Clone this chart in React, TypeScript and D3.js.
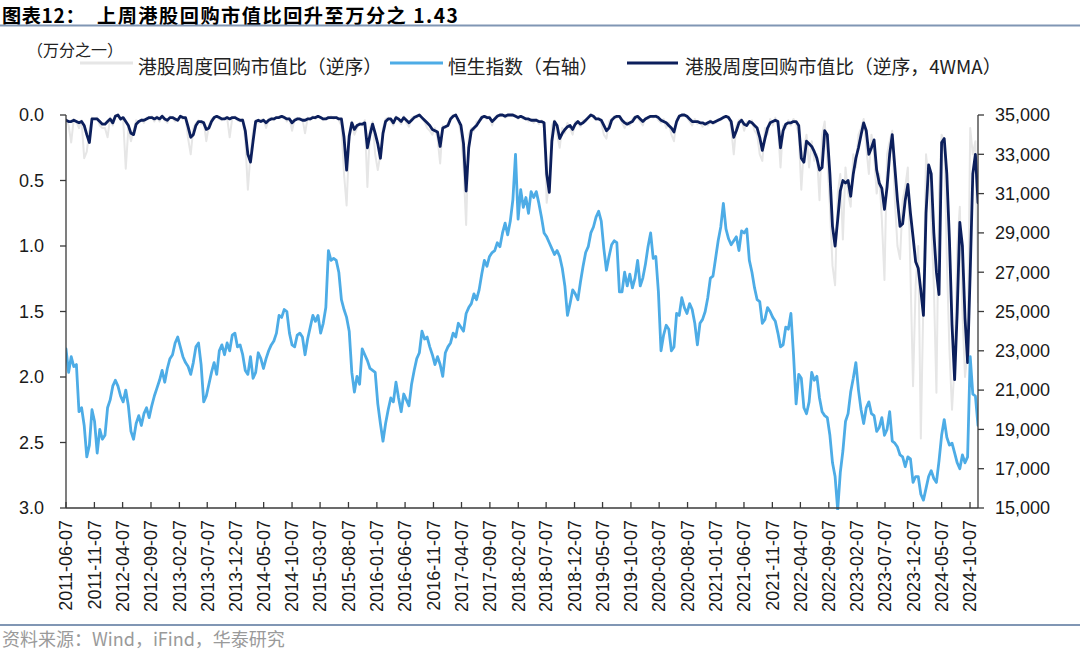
import React from 'react';
import * as d3 from 'd3';

// Series sampled every 14 days starting at seriesStart
const seriesStart = '2011-06-07';
const stepDays = 14;

// 恒生指数 (right axis)
const hsiIndex: number[] = [
  // 2011
  23100, 21900, 22700, 22200, 22300, 19900, 20100, 19200, 17600, 18200, 20000, 19400, 17800, 19000, 18500,
  // 2012
  18700, 20100, 20500, 21200, 21500, 21200, 20700, 20400, 21000, 20200, 18900, 18500, 19300, 19700, 19200, 19800, 20100, 19600, 20200, 20700, 21100, 21500, 22000, 21400, 22100, 22600,
  // 2013
  22800, 23400, 23700, 23200, 22700, 22400, 22200, 21800, 22400, 23200, 23400, 22300, 20400, 20700, 21300, 21900, 22400, 21800, 23000, 23300, 22800, 23400, 23000, 23800, 23900, 23200, 23300,
  // 2014
  22800, 22000, 21800, 22700, 21600, 21900, 22900, 22600, 22100, 22600, 23000, 23300, 23500, 23900, 24800, 24700, 25100, 25000, 23900, 23300, 23200, 23800, 23900, 23700, 22800, 23600,
  // 2015
  24200, 24800, 24500, 24800, 23900, 24400, 25200, 28100, 27600, 27700, 27600, 27000, 25600, 25100, 24700, 24000, 21900, 20900, 21700, 21300, 23100, 22800, 22500, 22100, 22000, 21900,
  // 2016
  20300, 19300, 18400, 19300, 20000, 20600, 20400, 21400, 20600, 19900, 20800, 20500, 20200, 21300, 22000, 22600, 22900, 24000, 23600, 23700, 23200, 22800, 22300, 22700, 22300, 21700,
  // 2017
  22900, 23200, 23400, 23900, 23700, 24400, 24200, 24000, 24900, 25200, 25400, 25900, 25600, 26100, 26900, 27600, 27300, 27800, 28000, 28100, 28500, 28300, 29000, 29500, 28900, 29600,
  // 2018
  30700, 33000, 29700, 31200, 30300, 30800, 30000, 31100, 30800, 31100, 30500, 29800, 29000, 28800, 28500, 28200, 27900, 28100, 27800, 27200, 26300, 24800, 25400, 26100, 25900, 25600,
  // 2019
  26500, 27300, 28000, 28300, 29000, 29300, 29800, 30100, 29600, 28200, 27100, 27800, 28400, 28600, 28500, 26000, 26000, 27000, 26300, 26900, 26200, 26700, 27600, 26300, 26700, 27400,
  // 2020
  28300, 29000, 27700, 27800, 26000, 23000, 23800, 24300, 24100, 23000, 23200, 24900, 24800, 25700, 25200, 24900, 25400, 25100, 24400, 23300, 24400, 24600, 25000, 25700, 26700, 26800,
  // 2021
  27700, 28600, 29300, 30500, 29200, 28700, 28400, 28600, 28800, 28100, 29100, 29000, 29200, 27600, 27000, 26200, 25600, 25500, 24400, 24600, 25200, 25000, 24700, 24500, 23900, 23200,
  // 2022
  23300, 24200, 24100, 24900, 22800, 20300, 21800, 21600, 20100, 19800, 20400, 21900, 21500, 21700, 20600, 19900, 19700, 19600, 18700, 17300, 16600, 14900, 16800, 17900, 19400, 19800,
  // 2023
  20900, 21600, 22400, 21000, 20000, 19300, 20100, 20400, 19800, 19700, 18900, 19100, 19600, 18700, 19000, 19900, 18400, 18300, 18100, 17700, 17600, 17100, 17600, 17500, 16300, 16600,
  // 2024
  16600, 15700, 15400, 16000, 16600, 16900, 16500, 16300, 17400, 18700, 19500, 18600, 18200, 18300, 17800, 17300, 17000, 17700, 17300, 17600, 22700, 20800, 20700, 19200,
];

// 港股周度回购市值比（逆序） — weekly, 万分之一
const buybackWeekly: number[] = [
  0.03, 0.08, 0.21, 0.03, 0.05, 0.10, 0.04, 0.33, 0.28, 0.12, 0.02, 0.03, 0.02, 0.08, 0.10,
  0.10, 0.17, 0.02, 0.08, 0.00, 0.01, 0.04, 0.03, 0.41, 0.10, 0.20, 0.12, 0.04, 0.06, 0.03, 0.06, 0.02, 0.03, 0.01, 0.05, 0.01, 0.05, 0.00, 0.04, 0.06, 0.01,
  0.02, 0.05, 0.03, 0.01, 0.03, 0.02, 0.18, 0.30, 0.10, 0.06, 0.04, 0.07, 0.05, 0.20, 0.08, 0.03, 0.02, 0.01, 0.03, 0.04, 0.02, 0.02, 0.17, 0.02, 0.01, 0.04, 0.05,
  0.03, 0.20, 0.57, 0.30, 0.12, 0.04, 0.06, 0.04, 0.03, 0.10, 0.03, 0.02, 0.04, 0.02, 0.01, 0.02, 0.01, 0.05, 0.02, 0.12, 0.03, 0.02, 0.04, 0.03, 0.14, 0.02,
  0.04, 0.01, 0.03, 0.01, 0.02, 0.04, 0.02, 0.03, 0.01, 0.03, 0.02, 0.04, 0.08, 0.45, 0.69, 0.20, 0.05, 0.15, 0.10, 0.06, 0.08, 0.04, 0.55, 0.10, 0.05, 0.30,
  0.42, 0.30, 0.10, 0.03, 0.02, 0.05, 0.08, 0.01, 0.04, 0.07, 0.01, 0.06, 0.09, 0.02, 0.01, 0.02, 0.00, 0.03, 0.05, 0.10, 0.12, 0.15, 0.10, 0.18, 0.37, 0.08,
  0.10, 0.06, 0.02, 0.00, 0.01, 0.05, 0.14, 0.40, 0.84, 0.15, 0.10, 0.12, 0.05, 0.04, 0.01, 0.02, 0.03, 0.01, 0.08, 0.02, 0.00, 0.01, 0.00, 0.02, 0.01, 0.00,
  0.01, 0.00, 0.03, 0.01, 0.03, 0.02, 0.05, 0.03, 0.06, 0.03, 0.07, 0.04, 0.10, 0.67, 0.50, 0.08, 0.04, 0.15, 0.25, 0.10, 0.14, 0.06, 0.10, 0.15, 0.05, 0.06,
  0.09, 0.04, 0.05, 0.01, 0.00, 0.02, 0.04, 0.02, 0.06, 0.15, 0.18, 0.05, 0.03, 0.01, 0.02, 0.01, 0.06, 0.10, 0.05, 0.08, 0.03, 0.01, 0.02, 0.05, 0.08, 0.02,
  0.03, 0.01, 0.02, 0.00, 0.04, 0.06, 0.03, 0.10, 0.06, 0.15, 0.20, 0.03, 0.00, 0.01, 0.00, 0.02, 0.05, 0.08, 0.03, 0.07, 0.05, 0.09, 0.06, 0.08, 0.04, 0.07,
  0.06, 0.03, 0.04, 0.01, 0.02, 0.01, 0.10, 0.30, 0.08, 0.04, 0.03, 0.12, 0.05, 0.06, 0.04, 0.12, 0.15, 0.30, 0.35, 0.10, 0.15, 0.03, 0.08, 0.02, 0.10, 0.40,
  0.08, 0.10, 0.04, 0.08, 0.03, 0.07, 0.15, 0.57, 0.25, 0.15, 0.40, 0.20, 0.35, 0.30, 0.65, 0.15, 0.05, 0.35, 0.70, 1.15, 1.30, 0.60, 0.45, 0.95, 0.40, 0.60,
  0.70, 0.30, 0.40, 0.15, 0.10, 0.03, 0.25, 0.45, 0.15, 0.30, 0.60, 0.45, 0.80, 1.26, 0.30, 0.20, 0.12, 0.65, 1.00, 1.10, 0.65, 0.55, 0.40, 1.20, 2.07, 1.30,
  1.00, 2.47, 1.40, 0.30, 0.50, 0.80, 1.30, 2.12, 0.60, 0.15, 0.20, 1.10, 1.79, 2.25, 1.90, 1.00, 0.70, 1.50, 2.00, 1.80, 0.10, 0.30, 0.20, 1.43,
];

// 港股周度回购市值比（逆序，4WMA）
const buyback4wma: number[] = [
  0.04, 0.05, 0.05, 0.04, 0.05, 0.06, 0.05, 0.08, 0.15, 0.21, 0.03, 0.03, 0.03, 0.05, 0.07,
  0.07, 0.05, 0.03, 0.06, 0.01, 0.00, 0.03, 0.02, 0.05, 0.08, 0.14, 0.15, 0.07, 0.05, 0.04, 0.04, 0.03, 0.02, 0.02, 0.03, 0.02, 0.03, 0.01, 0.03, 0.04, 0.02,
  0.02, 0.03, 0.04, 0.01, 0.02, 0.02, 0.09, 0.17, 0.15, 0.08, 0.05, 0.05, 0.06, 0.11, 0.10, 0.05, 0.02, 0.01, 0.02, 0.03, 0.03, 0.02, 0.03, 0.02, 0.02, 0.03, 0.04,
  0.04, 0.12, 0.30, 0.36, 0.20, 0.05, 0.04, 0.05, 0.04, 0.06, 0.04, 0.03, 0.03, 0.02, 0.02, 0.01, 0.02, 0.03, 0.03, 0.06, 0.04, 0.03, 0.03, 0.04, 0.04, 0.03,
  0.03, 0.02, 0.02, 0.01, 0.02, 0.03, 0.03, 0.02, 0.02, 0.02, 0.02, 0.03, 0.03, 0.17, 0.42, 0.16, 0.06, 0.11, 0.08, 0.07, 0.07, 0.06, 0.25, 0.15, 0.07, 0.14,
  0.22, 0.33, 0.14, 0.05, 0.03, 0.03, 0.06, 0.02, 0.03, 0.05, 0.02, 0.04, 0.06, 0.04, 0.02, 0.01, 0.00, 0.02, 0.04, 0.06, 0.08, 0.11, 0.12, 0.13, 0.24, 0.10,
  0.09, 0.08, 0.03, 0.01, 0.00, 0.04, 0.08, 0.22, 0.58, 0.25, 0.12, 0.10, 0.08, 0.05, 0.02, 0.01, 0.02, 0.02, 0.05, 0.03, 0.01, 0.00, 0.00, 0.01, 0.00, 0.00,
  0.00, 0.01, 0.02, 0.01, 0.02, 0.03, 0.03, 0.04, 0.04, 0.04, 0.05, 0.05, 0.06, 0.45, 0.59, 0.20, 0.05, 0.08, 0.18, 0.14, 0.11, 0.09, 0.08, 0.11, 0.07, 0.05,
  0.07, 0.06, 0.04, 0.02, 0.00, 0.01, 0.03, 0.03, 0.04, 0.08, 0.12, 0.10, 0.04, 0.02, 0.01, 0.01, 0.04, 0.06, 0.07, 0.06, 0.05, 0.02, 0.01, 0.03, 0.05, 0.03,
  0.02, 0.01, 0.01, 0.01, 0.02, 0.04, 0.05, 0.06, 0.08, 0.10, 0.13, 0.05, 0.01, 0.00, 0.00, 0.01, 0.03, 0.05, 0.05, 0.05, 0.06, 0.06, 0.07, 0.06, 0.05, 0.06,
  0.05, 0.04, 0.03, 0.02, 0.01, 0.02, 0.05, 0.17, 0.12, 0.06, 0.04, 0.07, 0.08, 0.05, 0.06, 0.08, 0.10, 0.17, 0.27, 0.18, 0.10, 0.06, 0.05, 0.04, 0.05, 0.25,
  0.12, 0.07, 0.06, 0.06, 0.05, 0.05, 0.08, 0.33, 0.36, 0.20, 0.22, 0.24, 0.28, 0.33, 0.42, 0.40, 0.12, 0.15, 0.45, 0.85, 1.00, 0.80, 0.58, 0.50, 0.52, 0.50,
  0.62, 0.45, 0.33, 0.25, 0.15, 0.06, 0.12, 0.30, 0.25, 0.19, 0.42, 0.52, 0.56, 0.72, 0.55, 0.30, 0.15, 0.40, 0.65, 0.85, 0.83, 0.65, 0.53, 0.75, 0.93, 1.12,
  1.17, 1.34, 1.53, 0.75, 0.38, 0.45, 0.90, 1.20, 1.37, 0.21, 0.18, 0.45, 0.95, 1.60, 2.02, 1.50, 0.82, 1.00, 1.55, 1.89, 1.20, 0.45, 0.30, 0.67,
];

const leftTicks = [0, 0.5, 1, 1.5, 2, 2.5, 3];
const rightTicks = [15000, 17000, 19000, 21000, 23000, 25000, 27000, 29000, 31000, 33000, 35000];
const xTickLabels = [
  '2011-06-07', '2011-11-07', '2012-04-07', '2012-09-07', '2013-02-07', '2013-07-07', '2013-12-07',
  '2014-05-07', '2014-10-07', '2015-03-07', '2015-08-07', '2016-01-07', '2016-06-07', '2016-11-07',
  '2017-04-07', '2017-09-07', '2018-02-07', '2018-07-07', '2018-12-07', '2019-05-07', '2019-10-07',
  '2020-03-07', '2020-08-07', '2021-01-07', '2021-06-07', '2021-11-07', '2022-04-07', '2022-09-07',
  '2023-02-07', '2023-07-07', '2023-12-07', '2024-05-07', '2024-10-07',
];

const legendLabels = ['港股周度回购市值比（逆序）', '恒生指数（右轴）', '港股周度回购市值比（逆序，4WMA）'];

const COLORS = { gray: '#e6e6e6', hsi: '#4dace6', dark: '#0c1f5c', axis: '#3a3a3a', rule: '#8096b4' };
const CJK = '"Noto Sans CJK SC", "Noto Sans", sans-serif';
const LATIN = '"Liberation Sans", Arial, sans-serif';

export default function App() {
  const W = 1080;
  const H = 652;
  const left = 66;
  const right = 978;
  const top = 115;
  const bottom = 508;

  const parse = d3.utcParse('%Y-%m-%d');
  const start = parse(seriesStart) as Date;
  const dates = hsiIndex.map((_, i) => d3.utcDay.offset(start, i * stepDays));

  const x = d3.scaleUtc().domain([dates[0], dates[dates.length - 1]]).range([left, right]);
  const yL = d3.scaleLinear().domain([0, 3]).range([top, bottom]);
  const yR = d3.scaleLinear().domain([15000, 35000]).range([bottom, top]);

  const lineL = d3
    .line<number>()
    .x((_, i) => x(dates[i]))
    .y((d) => yL(d));
  const lineR = d3
    .line<number>()
    .x((_, i) => x(dates[i]))
    .y((d) => yR(d));

  const legendY = 63;
  const legendFont = 18.8;

  return (
    <svg
      width={W}
      height={H}
      viewBox={`0 0 ${W} ${H}`}
      style={{ position: 'absolute', left: 0, top: 0, background: '#fff' }}
    >
      <rect x={0} y={0} width={W} height={H} fill="#fff" />
      <defs>
        <clipPath id="plot">
          <rect x={left} y={top - 6} width={right - left} height={bottom - top + 8} />
        </clipPath>
      </defs>

      {/* Title */}
      <text x={2} y={22.5} fontFamily={CJK} fontSize={19.2} fontWeight={700} fill="#000" letterSpacing={0.6}>
        图表12：
      </text>
      <text x={97} y={22.5} fontFamily={CJK} fontSize={19.2} fontWeight={700} fill="#000" letterSpacing={1.5}>
        上周港股回购市值比回升至万分之 1.43
      </text>
      <line x1={0} x2={W} y1={25.5} y2={25.5} stroke={COLORS.rule} strokeWidth={2} />

      {/* unit */}
      <text x={27} y={56} fontFamily={CJK} fontSize={16} fill="#222">
        （万分之一）
      </text>

      {/* Legend */}
      <line x1={80} x2={133} y1={legendY} y2={legendY} stroke={COLORS.gray} strokeWidth={3} />
      <text x={138} y={73.5} fontFamily={CJK} fontSize={legendFont} fill="#222">
        {legendLabels[0]}
      </text>
      <line x1={390} x2={443} y1={legendY} y2={legendY} stroke={COLORS.hsi} strokeWidth={3} />
      <text x={448} y={73.5} fontFamily={CJK} fontSize={legendFont} fill="#222">
        {legendLabels[1]}
      </text>
      <line x1={627} x2={678} y1={legendY} y2={legendY} stroke={COLORS.dark} strokeWidth={3} />
      <text x={685} y={73.5} fontFamily={CJK} fontSize={legendFont} fill="#222">
        {legendLabels[2]}
      </text>

      {/* Series */}
      <g clipPath="url(#plot)" fill="none" strokeLinejoin="round" strokeLinecap="round">
        <path d={lineL(buybackWeekly) || ''} stroke={COLORS.gray} strokeWidth={2} />
        <path d={lineL(buyback4wma) || ''} stroke={COLORS.dark} strokeWidth={2.8} />
        <path d={lineR(hsiIndex) || ''} stroke={COLORS.hsi} strokeWidth={2.8} />
      </g>

      {/* Left axis */}
      <line x1={left} x2={left} y1={top} y2={bottom} stroke={COLORS.axis} strokeWidth={1.3} />
      {leftTicks.map((t) => (
        <g key={`l${t}`}>
          <line x1={left - 6} x2={left} y1={yL(t)} y2={yL(t)} stroke={COLORS.axis} strokeWidth={1.3} />
          <text x={44} y={yL(t)} dy="0.35em" textAnchor="end" fontFamily={LATIN} fontSize={18} fill="#1a1a1a">
            {d3.format('.1f')(t)}
          </text>
        </g>
      ))}

      {/* Right axis */}
      <line x1={right} x2={right} y1={top} y2={bottom} stroke={COLORS.axis} strokeWidth={1.3} />
      {rightTicks.map((t) => (
        <g key={`r${t}`}>
          <line x1={right} x2={right + 6} y1={yR(t)} y2={yR(t)} stroke={COLORS.axis} strokeWidth={1.3} />
          <text x={995} y={yR(t)} dy="0.35em" textAnchor="start" fontFamily={LATIN} fontSize={18} fill="#1a1a1a">
            {d3.format(',')(t)}
          </text>
        </g>
      ))}

      {/* Bottom axis */}
      <line x1={left} x2={right} y1={bottom} y2={bottom} stroke={COLORS.axis} strokeWidth={1.3} />
      {xTickLabels.map((lab) => {
        const xp = x(parse(lab) as Date);
        return (
          <g key={lab}>
            <line x1={xp} x2={xp} y1={bottom - 6} y2={bottom} stroke={COLORS.axis} strokeWidth={1.3} />
            <text
              transform={`translate(${xp},520) rotate(-90)`}
              dy="0.35em"
              textAnchor="end"
              fontFamily={LATIN}
              fontSize={18}
              fill="#1a1a1a"
            >
              {lab}
            </text>
          </g>
        );
      })}

      {/* Footer */}
      <line x1={0} x2={W} y1={625} y2={625} stroke={COLORS.rule} strokeWidth={2} />
      <text x={2} y={646} fontFamily={CJK} fontSize={18} fill="#9a9a9a">
        资料来源：Wind，iFind，华泰研究
      </text>
    </svg>
  );
}
